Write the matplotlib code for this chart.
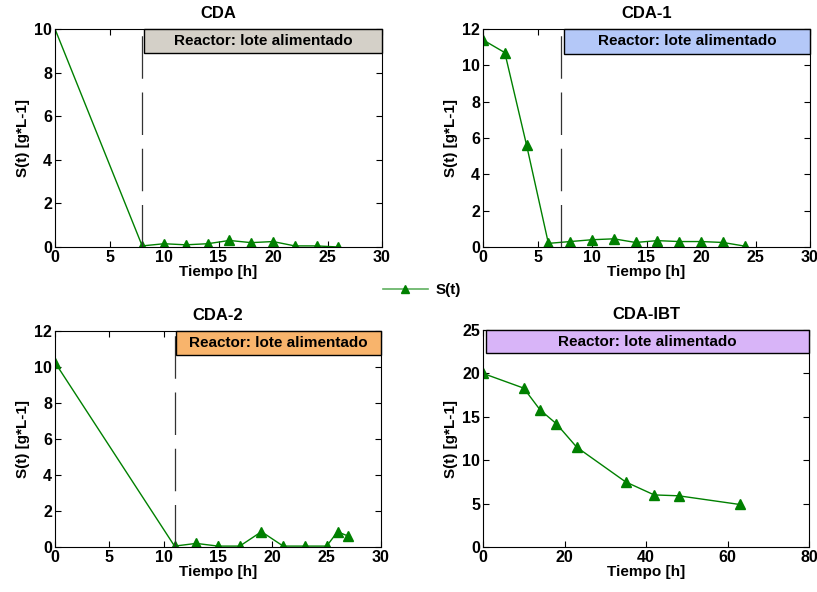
import matplotlib
matplotlib.use("Agg")
import matplotlib.pyplot as plt
from matplotlib.patches import Rectangle
from matplotlib.lines import Line2D

plt.rcParams['font.family'] = ['Liberation Sans', 'DejaVu Sans']
plt.rcParams['font.weight'] = 'bold'

# data
cda_t = [0, 8, 10, 12, 14, 16, 18, 20, 22, 24, 26]
cda_s = [10.0, 0.05, 0.15, 0.1, 0.15, 0.3, 0.2, 0.25, 0.05, 0.05, 0.0]

cda1_t = [0, 2, 4, 6, 8, 10, 12, 14, 16, 18, 20, 22, 24]
cda1_s = [11.4, 10.7, 5.6, 0.2, 0.3, 0.4, 0.45, 0.25, 0.35, 0.3, 0.3, 0.25, 0.05]

cda2_t = [0, 11, 13, 15, 17, 19, 21, 23, 25, 26, 27]
cda2_s = [10.25, 0.05, 0.2, 0.05, 0.05, 0.85, 0.05, 0.05, 0.05, 0.85, 0.6]

ibt_t = [0, 10, 14, 18, 23, 35, 42, 48, 63]
ibt_s = [20.0, 18.3, 15.8, 14.2, 11.5, 7.5, 6.0, 5.9, 4.9]

titles = ["CDA", "CDA-1", "CDA-2", "CDA-IBT"]
xlims = [30, 30, 30, 80]
ylims = [10, 12, 12, 25]
feed_start = [8, 7.2, 11, None]       # dashed line
box_left = [8.2, 7.4, 11.1, 0.8]
box_bottom = [8.9, 10.65, 10.65, 22.3]
box_colors = ['#d4d0c8', '#b4c8f8', '#f8b46c', '#d8b4f8']
series = [(cda_t, cda_s), (cda1_t, cda1_s), (cda2_t, cda2_s), (ibt_t, ibt_s)]

green = '#008000'

fig = plt.figure(figsize=(8.17, 5.92), dpi=100)
W, H = 817, 592
# axes boxes in pixels: left, top, right, bottom
px = [(55, 29, 382, 247), (483, 29, 810, 247),
      (55, 331, 381, 547), (483, 330, 809, 547)]

for i in range(4):
    l, t, r, b = px[i]
    ax = fig.add_axes([l / W, 1 - b / H, (r - l) / W, (b - t) / H])
    x, y = series[i]
    # first CDA point has no visible marker
    mk = list(range(1, len(x))) if i == 0 else None
    ax.plot(x, y, color=green, lw=1, marker='^', ms=7, mfc=green, mec=green,
            markevery=mk)
    ax.set_xlim(0, xlims[i])
    ax.set_ylim(0, ylims[i])
    ax.set_title(titles[i], fontsize=12, fontweight='bold', pad=8)
    ax.set_xlabel("Tiempo [h]", fontsize=11, fontweight='bold', labelpad=0)
    ax.set_ylabel("S(t) [g*L-1]", fontsize=11, fontweight='bold', labelpad=3)
    ax.tick_params(direction='in', top=True, right=True, labelsize=11.5,
                   length=4, width=0.8, pad=2)
    for lab in ax.get_xticklabels() + ax.get_yticklabels():
        lab.set_fontweight('bold')
    if i == 3:
        ax.set_xticks([0, 20, 40, 60, 80])
    if feed_start[i] is not None:
        ax.axvline(feed_start[i], color='#333333', lw=0.9, dashes=(34, 11))
    bx = Rectangle((box_left[i], box_bottom[i]), xlims[i] - box_left[i],
                   ylims[i] - box_bottom[i], facecolor=box_colors[i],
                   edgecolor='black', lw=1, zorder=3, clip_on=False)
    ax.add_patch(bx)
    ax.text((box_left[i] + xlims[i]) / 2, (box_bottom[i] + ylims[i]) / 2,
            "Reactor: lote alimentado", ha='center', va='center',
            fontsize=11, fontweight='bold', zorder=4)

handle = Line2D([], [], color='#60b060', lw=1.2, marker='^', ms=6,
                mfc=green, mec=green)
fig.legend([handle], ["S(t)"], loc='center', bbox_to_anchor=(422 / W, 1 - 290 / H),
           frameon=False, handlelength=3, handletextpad=0.5,
           prop={'weight': 'bold', 'size': 11})

fig.savefig("out.png", dpi=100)
